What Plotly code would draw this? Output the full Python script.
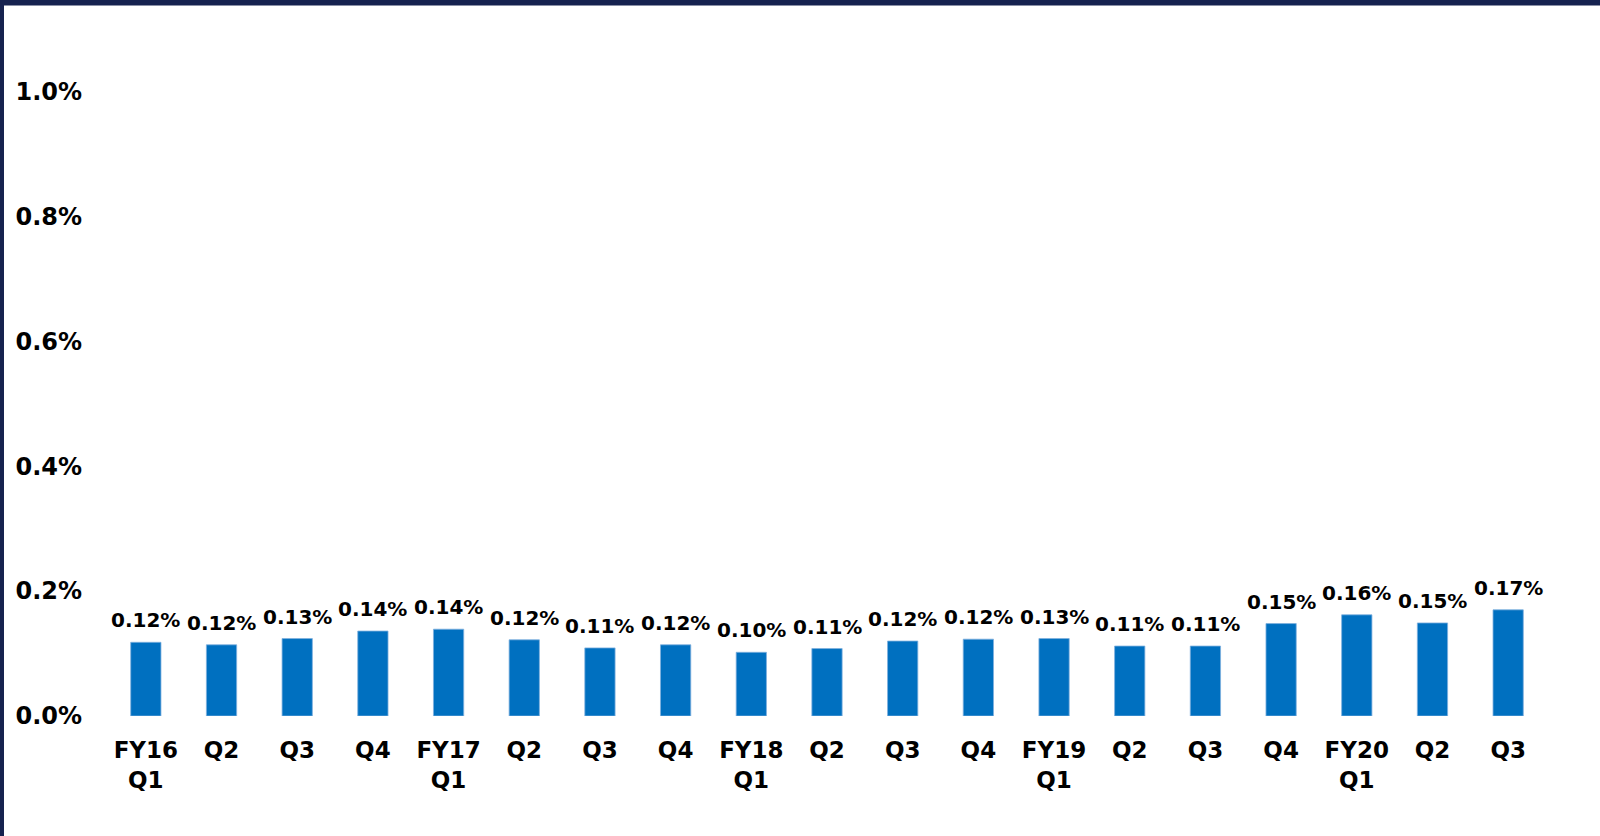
import plotly.graph_objects as go

categories = ["FY16 Q1", "FY16 Q2", "FY16 Q3", "FY16 Q4",
              "FY17 Q1", "FY17 Q2", "FY17 Q3", "FY17 Q4",
              "FY18 Q1", "FY18 Q2", "FY18 Q3", "FY18 Q4",
              "FY19 Q1", "FY19 Q2", "FY19 Q3", "FY19 Q4",
              "FY20 Q1", "FY20 Q2", "FY20 Q3"]
tick_labels = ["FY16<br>Q1", "Q2", "Q3", "Q4",
               "FY17<br>Q1", "Q2", "Q3", "Q4",
               "FY18<br>Q1", "Q2", "Q3", "Q4",
               "FY19<br>Q1", "Q2", "Q3", "Q4",
               "FY20<br>Q1", "Q2", "Q3"]
values = [0.118, 0.114, 0.124, 0.136, 0.139, 0.122, 0.109, 0.114, 0.102, 0.108,
          0.120, 0.123, 0.124, 0.112, 0.112, 0.148, 0.162, 0.149, 0.170]
value_labels = ["0.12%", "0.12%", "0.13%", "0.14%", "0.14%", "0.12%", "0.11%", "0.12%",
                "0.10%", "0.11%", "0.12%", "0.12%", "0.13%", "0.11%", "0.11%", "0.15%",
                "0.16%", "0.15%", "0.17%"]
y_ticks = [0.0, 0.2, 0.4, 0.6, 0.8, 1.0]
y_tick_labels = ["0.0%", "0.2%", "0.4%", "0.6%", "0.8%", "1.0%"]

FONT = "Verdana, DejaVu Sans, sans-serif"

fig = go.Figure()
fig.add_trace(go.Bar(
    x=categories, y=values,
    marker=dict(color="#0070C0", line=dict(color="#7FB0DE", width=0.8)),
    hoverinfo="skip",
))

for c, v, t in zip(categories, values, value_labels):
    fig.add_annotation(x=c, y=v, text=t, showarrow=False, yanchor="middle",
                       yshift=22, font=dict(family=FONT, size=20, color="black", weight="bold"))

W, H = 1600, 836
L, R, T, B = 108, 54, 28.5, 120
pw = W - L - R
ph = H - T - B

# dark frame on top and left edges
fig.add_shape(type="rect", xref="paper", yref="paper",
              x0=-L / pw, x1=(W - L) / pw, y0=1 + (T - 5) / ph, y1=1 + T / ph + 0.01,
              fillcolor="#16224F", line=dict(width=0), layer="above")
fig.add_shape(type="rect", xref="paper", yref="paper",
              x0=-L / pw - 0.01, x1=-(L - 4) / pw, y0=-B / ph - 0.01, y1=1 + T / ph + 0.01,
              fillcolor="#16224F", line=dict(width=0), layer="above")

fig.update_layout(
    width=W, height=H,
    margin=dict(l=L, r=R, t=T, b=B),
    paper_bgcolor="white", plot_bgcolor="white",
    bargap=0.6, showlegend=False,
    xaxis=dict(tickvals=categories, ticktext=tick_labels, showgrid=False, zeroline=False,
               showline=False, ticks="", ticklabelstandoff=18,
               tickfont=dict(family=FONT, size=23, color="black", weight="bold")),
    yaxis=dict(range=[0, 1.1], tickvals=y_ticks, ticktext=y_tick_labels, showgrid=False,
               zeroline=False, showline=False, ticks="", ticklabelstandoff=25,
               tickfont=dict(family=FONT, size=24, color="black", weight="bold")),
)

fig.write_html("out.html", config={"displayModeBar": False},
               post_script="document.body.style.margin='0';document.body.style.overflow='hidden';")
